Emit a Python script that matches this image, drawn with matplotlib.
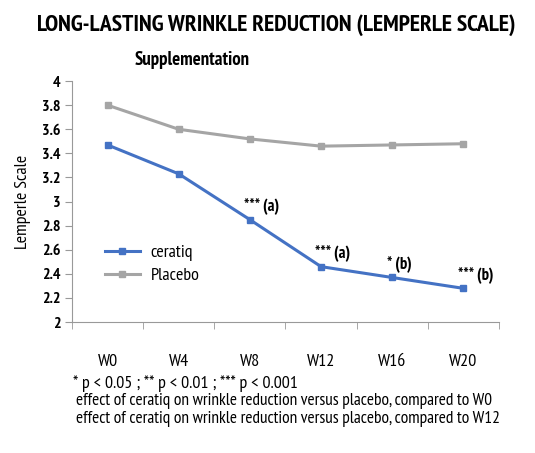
import matplotlib
matplotlib.use('Agg')
from matplotlib import pyplot as plt

# data
weeks = ['W0', 'W4', 'W8', 'W12', 'W16', 'W20']
ceratiq = [3.47, 3.23, 2.85, 2.46, 2.37, 2.28]
placebo = [3.80, 3.60, 3.52, 3.46, 3.47, 3.48]
yticks = [2, 2.2, 2.4, 2.6, 2.8, 3, 3.2, 3.4, 3.6, 3.8, 4]
notes = {2: '*** (a)', 3: '*** (a)', 4: '* (b)', 5: '*** (b)'}

plt.rcParams['font.family'] = ['PT Sans Narrow', 'DejaVu Sans']

blue = '#4472C4'
gray = '#A5A5A5'

fig = plt.figure(figsize=(5.35, 4.53), dpi=100)
ax = fig.add_axes([0.1346, 0.289, 0.798, 0.532])

x = list(range(len(weeks)))
ax.plot(x, placebo, color=gray, lw=2.2, marker='s', ms=5, label='Placebo')
ax.plot(x, ceratiq, color=blue, lw=2.2, marker='s', ms=5, label='ceratiq')

for i, txt in notes.items():
    ax.annotate(txt, (x[i], ceratiq[i]), xytext=(-4, 3), textcoords='offset points',
                fontsize=12, fontweight='bold', ha='left', va='bottom')

ax.set_xlim(-0.5, len(weeks) - 0.5)
ax.set_ylim(2, 4)
ax.set_yticks(yticks)
ax.set_yticklabels(['%g' % v for v in yticks], fontsize=11.5, fontweight='bold')
ax.set_xticks(x)
ax.set_xticklabels(weeks, fontsize=13)
ax.set_xticks([i + 0.5 for i in range(-1, len(weeks))], minor=True)
ax.tick_params(axis='x', which='major', length=0, pad=23)
ax.tick_params(axis='x', which='minor', length=5, color='#999999')
ax.tick_params(axis='y', length=5, color='#999999')
for s in ['top', 'right']:
    ax.spines[s].set_visible(False)
for s in ['left', 'bottom']:
    ax.spines[s].set_color('#999999')
ax.set_ylabel('Lemperle Scale', fontsize=13, labelpad=8)

# legend, ceratiq first
h, l = ax.get_legend_handles_labels()
ax.legend(h[::-1], l[::-1], loc='center left', bbox_to_anchor=(0.04, 0.24), frameon=False,
          prop={'size': 13}, handlelength=1.9, handletextpad=0.6, labelspacing=0.35)

fig.text(0.516, 0.945, 'LONG-LASTING WRINKLE REDUCTION (LEMPERLE SCALE)', ha='center', va='center',
         fontsize=17, fontweight='bold')
fig.text(0.252, 0.868, 'Supplementation', ha='left', va='center',
         fontsize=13.5, fontweight='bold')

fig.text(0.137, 0.153, '* p < 0.05 ; ** p < 0.01 ; *** p < 0.001', fontsize=13, va='center')
fig.text(0.142, 0.114, 'effect of ceratiq on wrinkle reduction versus placebo, compared to W0',
         fontsize=12.5, va='center')
fig.text(0.142, 0.075, 'effect of ceratiq on wrinkle reduction versus placebo, compared to W12',
         fontsize=12.5, va='center')

plt.savefig('out.png', dpi=100)
